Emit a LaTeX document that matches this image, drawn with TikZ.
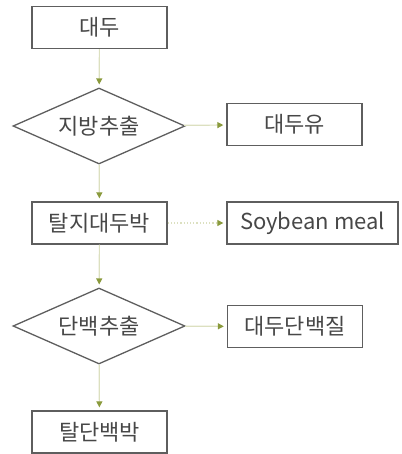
\documentclass[tikz,border=0pt]{standalone}
\usepackage{fontspec}
\setmainfont{Noto Sans CJK KR}
\usetikzlibrary{shapes.geometric,arrows.meta}
\definecolor{bordergray}{HTML}{5E5E5E}
\definecolor{linegreen}{HTML}{DCE0C0}
\definecolor{tipgreen}{HTML}{8A9A3C}
\begin{document}
\begin{tikzpicture}[x=1pt,y=-1pt,
  every node/.style={font=\fontsize{22}{26}\selectfont, text=black!72, inner sep=0pt},
  boxnode/.style={draw=bordergray, line width=1.3pt, minimum width=135pt, minimum height=42pt},
  rhombus/.style={draw=bordergray, line width=1.3pt, diamond, aspect=2.3, minimum width=172pt, minimum height=76pt},
  flow/.style={draw=linegreen, line width=1.2pt, -{Triangle[length=6pt,width=6pt,color=tipgreen]}, shorten >=3pt}]
\useasboundingbox (0,0) rectangle (401,454);
\node[boxnode] (a) at (99.5,27.5) {대두};
\node[rhombus] (b) at (99,126) {지방추출};
\node[boxnode] (c) at (294.5,124.5) {대두유};
\node[boxnode] (d) at (99.5,223) {탈지대두박};
\node[boxnode, minimum width=171pt] (e) at (312.5,223) {Soybean meal};
\node[rhombus] (f) at (99,326) {단백추출};
\node[boxnode] (g) at (295,326.5) {대두단백질};
\node[boxnode] (h) at (99.5,432) {탈단백박};
\draw[flow] (a) -- (b);
\draw[flow] (b) -- (c);
\draw[flow] (b) -- (d);
\draw[flow, dotted] (d) -- (e);
\draw[flow] (d) -- (f);
\draw[flow] (f) -- (g);
\draw[flow] (f) -- (h);
\end{tikzpicture}
\end{document}
